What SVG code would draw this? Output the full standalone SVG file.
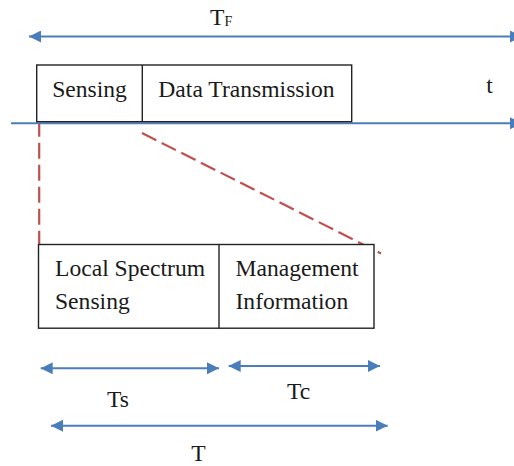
<svg xmlns="http://www.w3.org/2000/svg" width="514" height="466" viewBox="0 0 514 466">
  <style>
    .lbl { font-family: "Liberation Serif", "Times New Roman", serif; font-size: 23.6px; fill: #1a1a1a; }
    .box { fill: #ffffff; stroke: #222222; stroke-width: 1.4; }
    .div { stroke: #222222; stroke-width: 1.4; }
    .dim { stroke: #4a7ebb; stroke-width: 2; fill: none; marker-start: url(#tipL); marker-end: url(#tipR); }
    .zoom { stroke: #c0504d; stroke-width: 2.2; stroke-dasharray: 16 6; fill: none; }
  </style>
  <defs>
    <marker id="tipR" markerWidth="12" markerHeight="12" refX="12" refY="6" orient="auto" markerUnits="userSpaceOnUse">
      <path d="M0,0 L12,6 L0,12 Z" fill="#4a7ebb"/>
    </marker>
    <marker id="tipL" markerWidth="12" markerHeight="12" refX="0" refY="6" orient="auto" markerUnits="userSpaceOnUse">
      <path d="M12,0 L0,6 L12,12 Z" fill="#4a7ebb"/>
    </marker>
  </defs>
  <rect width="514" height="466" fill="#ffffff"/>

  <g id="connectors">
    <!-- frame span T_F -->
    <line class="dim" x1="29" y1="36.5" x2="522" y2="36.5"/>
    <!-- time axis -->
    <line x1="11" y1="123.3" x2="522" y2="123.3" stroke="#4a7ebb" stroke-width="2" marker-end="url(#tipR)"/>
    <!-- zoom-in guides -->
    <line class="zoom" x1="39.2" y1="124" x2="39.2" y2="245" stroke-dashoffset="3.3"/>
    <line class="zoom" x1="142" y1="133" x2="381" y2="253.5"/>
    <!-- durations -->
    <line class="dim" x1="40.7" y1="368.3" x2="219" y2="368.3"/>
    <line class="dim" x1="228.7" y1="366" x2="380" y2="366"/>
    <line class="dim" x1="51" y1="425.7" x2="387.7" y2="425.7"/>
  </g>

  <g id="frame">
    <rect class="box" x="36.7" y="65" width="315" height="56.7"/>
    <line class="div" x1="142.3" y1="65" x2="142.3" y2="121.7"/>
    <text class="lbl" x="89.5" y="96.5" text-anchor="middle">Sensing</text>
    <text class="lbl" x="246.5" y="96.5" text-anchor="middle">Data Transmission</text>
  </g>

  <g id="sensing-slot">
    <rect class="box" x="38.5" y="244.5" width="335.5" height="83.7"/>
    <line class="div" x1="219" y1="244.5" x2="219" y2="328.2"/>
    <text class="lbl" x="55" y="276">Local Spectrum</text>
    <text class="lbl" x="55" y="309">Sensing</text>
    <text class="lbl" x="235.5" y="276">Management</text>
    <text class="lbl" x="235.5" y="309">Information</text>
  </g>

  <g id="labels">
    <text class="lbl" x="210" y="24.5" font-size="24">T<tspan font-size="14" dy="1.5">F</tspan></text>
    <text class="lbl" x="489.5" y="93" text-anchor="middle">t</text>
    <text class="lbl" x="118" y="406.5" text-anchor="middle">Ts</text>
    <text class="lbl" x="298.5" y="399" text-anchor="middle">Tc</text>
    <text class="lbl" x="198.5" y="460.5" text-anchor="middle">T</text>
  </g>
</svg>
